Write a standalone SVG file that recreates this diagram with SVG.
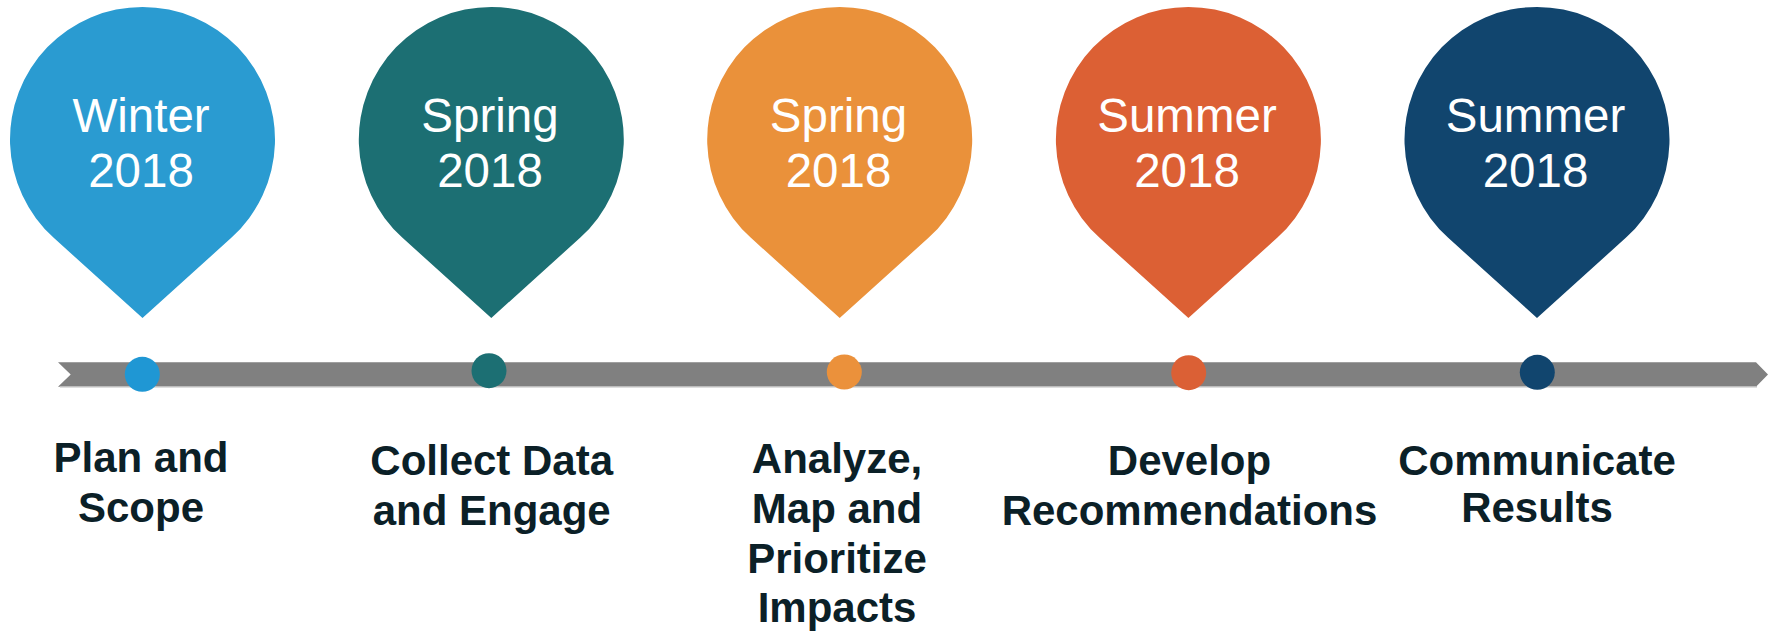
<svg xmlns="http://www.w3.org/2000/svg" xmlns:xlink="http://www.w3.org/1999/xlink" width="1772" height="636" viewBox="0 0 1772 636">
<style>
.pintxt{font-family:"Liberation Sans",Arial,sans-serif;font-size:47.5px;fill:#ffffff;text-anchor:middle}
.lbl{font-family:"Liberation Sans",Arial,sans-serif;font-size:42px;font-weight:bold;fill:#0b2027;text-anchor:middle}
</style>
<defs>
<path id="pin" d="M0,318 L-88.8,237.8 A132.5,132.5 0 1 1 88.8,237.8 Z"/>
</defs>
<rect width="1772" height="636" fill="#ffffff"/>
<g id="connectors">
<polygon points="58,362.3 1756,362.3 1768,374.5 1756,386.7 58,386.7 70.7,374.5" fill="#808080"/>
<rect x="60" y="386" width="1697" height="1.5" fill="#bdbdbd"/>
</g>
<g id="node1">
<use xlink:href="#pin" transform="translate(142.5,0)" fill="#2a9bd1"/>
<text class="pintxt" x="141" y="132">Winter</text>
<text class="pintxt" x="141" y="187">2018</text>
<circle cx="142.3" cy="374.3" r="17.5" fill="#1f97d4"/>
<text class="lbl" x="141" y="472">Plan and</text>
<text class="lbl" x="141" y="522">Scope</text>
</g>
<g id="node2">
<use xlink:href="#pin" transform="translate(491.3,0)" fill="#1c6f73"/>
<text class="pintxt" x="490" y="132">Spring</text>
<text class="pintxt" x="490" y="187">2018</text>
<circle cx="489" cy="370.7" r="17.5" fill="#1c6f73"/>
<text class="lbl" x="491.7" y="475">Collect Data</text>
<text class="lbl" x="491.7" y="525">and Engage</text>
</g>
<g id="node3">
<use xlink:href="#pin" transform="translate(839.7,0)" fill="#ea913a"/>
<text class="pintxt" x="838.5" y="132">Spring</text>
<text class="pintxt" x="838.5" y="187">2018</text>
<circle cx="844.3" cy="372" r="17.5" fill="#eb913b"/>
<text class="lbl" x="837" y="473">Analyze,</text>
<text class="lbl" x="837" y="523">Map and</text>
<text class="lbl" x="837" y="573">Prioritize</text>
<text class="lbl" x="837" y="622">Impacts</text>
</g>
<g id="node4">
<use xlink:href="#pin" transform="translate(1188.4,0)" fill="#dc6034"/>
<text class="pintxt" x="1187" y="132">Summer</text>
<text class="pintxt" x="1187" y="187">2018</text>
<circle cx="1188.7" cy="372.7" r="17.5" fill="#db6035"/>
<text class="lbl" x="1189.5" y="475">Develop</text>
<text class="lbl" x="1189.5" y="525">Recommendations</text>
</g>
<g id="node5">
<use xlink:href="#pin" transform="translate(1537,0)" fill="#11456e"/>
<text class="pintxt" x="1535.5" y="132">Summer</text>
<text class="pintxt" x="1535.5" y="187">2018</text>
<circle cx="1537.3" cy="372.3" r="17.5" fill="#11456e"/>
<text class="lbl" x="1537" y="475">Communicate</text>
<text class="lbl" x="1537" y="522">Results</text>
</g>
</svg>
